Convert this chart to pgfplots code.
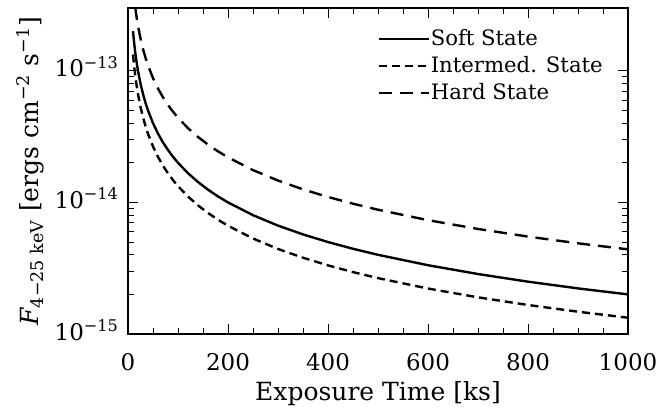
\documentclass[border=0pt]{standalone}
\usepackage{fontspec}
\setmainfont{DejaVu Serif}
\usepackage{pgfplots}
\pgfplotsset{compat=1.18}

\begin{document}
\begin{tikzpicture}
% fixed page frame around the axis box
\useasboundingbox (-64pt,-37pt) rectangle (272pt,167pt);
\begin{axis}[
  at={(0,0)}, anchor=south west,
  scale only axis,
  width=250pt, height=163pt,
  font=\fontsize{12.5}{14}\selectfont,
  ymode=log,
  xmin=0, xmax=1000,
  ymin=1e-15, ymax=3e-13,
  xtick={0,200,400,600,800,1000},
  xticklabels={0,200,400,600,800,1000},
  minor x tick num=3,
  ytick={1e-15,1e-14,1e-13},
  yticklabels={10\textsuperscript{−15},10\textsuperscript{−14},10\textsuperscript{−13}},
  xticklabel style={font=\fontsize{11.5}{13}\selectfont, anchor=center, yshift=-14pt},
  yticklabel style={font=\fontsize{11.5}{13}\selectfont, anchor=east, xshift=-1pt, yshift=2pt},
  tick align=inside,
  tick pos=both,
  major tick length=5pt,
  minor tick length=3pt,
  axis line style={line width=0.6pt},
  every tick/.style={black, line width=0.5pt},
  xlabel={Exposure Time [ks]},
  ylabel={{\itshape F}\textsubscript{4−25 keV} [ergs cm\textsuperscript{−2} s\textsuperscript{−1}]},
  xlabel style={at={(axis description cs:0.5,-0.184)}, anchor=center},
  ylabel style={at={(axis description cs:-0.196,0.5)}, anchor=center},
  legend style={at={(0.486,0.96)}, anchor=north west, draw=none, fill=none,
    font=\fontsize{10.6}{12}\selectfont, row sep=0pt,
    nodes={inner xsep=0.5pt},
    /tikz/every odd column/.append style={column sep=0pt}},
  legend cell align=left,
  legend image code/.code={\draw[#1] (0pt,0pt) -- (25pt,0pt);},
]
% Soft state
\addplot[black, line width=1.2pt] coordinates {
(10,2.0e-13) (12,1.667e-13) (14,1.4286e-13) (16,1.25e-13) (18,1.111e-13)
(20,1.0e-13) (25,8.0e-14) (30,6.667e-14) (35,5.714e-14) (40,5.0e-14)
(50,4.0e-14) (60,3.333e-14) (70,2.857e-14) (80,2.5e-14) (90,2.222e-14)
(100,2.0e-14) (120,1.667e-14) (140,1.4286e-14) (160,1.25e-14) (180,1.111e-14)
(200,1.0e-14) (250,8.0e-15) (300,6.667e-15) (350,5.714e-15) (400,5.0e-15)
(450,4.444e-15) (500,4.0e-15) (600,3.333e-15) (700,2.857e-15) (800,2.5e-15)
(900,2.222e-15) (1000,2.0e-15)};
\addlegendentry{Soft State}
% Intermediate state
\addplot[black, line width=1.2pt, dash pattern=on 4pt off 2.5pt] coordinates {
(10,1.33e-13) (12,1.108e-13) (14,9.50e-14) (16,8.31e-14) (18,7.39e-14)
(20,6.65e-14) (25,5.32e-14) (30,4.43e-14) (35,3.80e-14) (40,3.325e-14)
(50,2.66e-14) (60,2.217e-14) (70,1.90e-14) (80,1.6625e-14) (90,1.478e-14)
(100,1.33e-14) (120,1.108e-14) (140,9.50e-15) (160,8.31e-15) (180,7.39e-15)
(200,6.65e-15) (250,5.32e-15) (300,4.43e-15) (350,3.80e-15) (400,3.325e-15)
(450,2.956e-15) (500,2.66e-15) (600,2.217e-15) (700,1.90e-15) (800,1.6625e-15)
(900,1.478e-15) (1000,1.33e-15)};
\addlegendentry{Intermed. State}
% Hard state
\addplot[black, line width=1.2pt, dash pattern=on 6.5pt off 4pt] coordinates {
(10,4.4e-13) (12,3.667e-13) (14,3.143e-13) (16,2.75e-13) (18,2.444e-13)
(20,2.2e-13) (25,1.76e-13) (30,1.467e-13) (35,1.257e-13) (40,1.1e-13)
(50,8.8e-14) (60,7.333e-14) (70,6.286e-14) (80,5.5e-14) (90,4.889e-14)
(100,4.4e-14) (120,3.667e-14) (140,3.143e-14) (160,2.75e-14) (180,2.444e-14)
(200,2.2e-14) (250,1.76e-14) (300,1.467e-14) (350,1.257e-14) (400,1.1e-14)
(450,9.778e-15) (500,8.8e-15) (600,7.333e-15) (700,6.286e-15) (800,5.5e-15)
(900,4.889e-15) (1000,4.4e-15)};
\addlegendentry{Hard State}
\end{axis}
\end{tikzpicture}
\end{document}
